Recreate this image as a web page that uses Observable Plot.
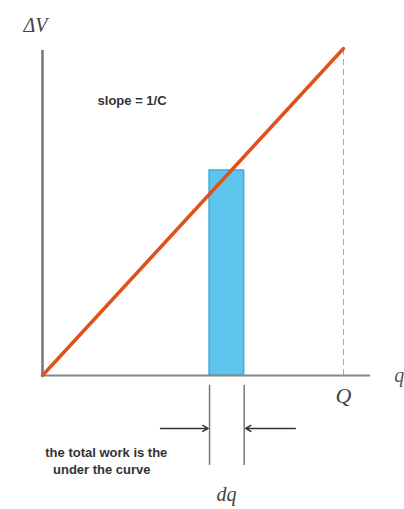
<!DOCTYPE html>
<html><head><meta charset="utf-8">
<script src="https://cdn.jsdelivr.net/npm/d3@7"></script>
<script src="https://cdn.jsdelivr.net/npm/@observablehq/plot@0.6"></script>
<style>body{margin:0;background:#fff;}svg{display:block;}</style>
</head><body><div id="chart"></div>
<script>
// Charge q (Q = 100) and voltage ΔV (ΔV at Q = 100)
const lineQ = [0, 100];
const lineV = [0, 100];
const Q = 100;
const barQ = [55.5, 67];     // strip width dq
const barV = 62.7;           // height of strip
const xAxisEnd = 109;
const yAxisEnd = 99.4;
const labels = ["ΔV", "slope = 1/C", "q", "Q", "dq"];
const noteLines = ["the total work is the", "under the curve"];

const line = lineQ.map((q, i) => ({q, v: lineV[i]}));

const plot = Plot.plot({
  width: 404, height: 509,
  margin: 0,
  x: {domain: [-42/3.01, 362/3.01], range: [0, 404], axis: null},
  y: {domain: [-134/3.27, 375/3.27], range: [509, 0], axis: null},
  style: {background: "#fff"},
  marks: [
    Plot.rect([{x1: barQ[0], x2: barQ[1], y1: 0, y2: barV}], {x1: "x1", x2: "x2", y1: "y1", y2: "y2", fill: "#5cc6ef", stroke: "#4aa8d8", strokeWidth: 1.5}),
    Plot.ruleX([Q], {y1: 0, y2: 100, stroke: "#aaa", strokeDasharray: "6,4", strokeWidth: 1}),
    Plot.ruleY([0], {x1: 0, x2: xAxisEnd, stroke: "#888", strokeWidth: 2}),
    Plot.ruleX([0], {y1: 0, y2: yAxisEnd, stroke: "#777", strokeWidth: 2.5}),
    Plot.line(line, {x: "q", y: "v", stroke: "#e0521c", strokeWidth: 3.5}),
    Plot.ruleX(barQ, {y1: -3, y2: -27.5, stroke: "#777", strokeWidth: 1.5}),
    Plot.arrow([{x1: 39.2, x2: 55, y: -16.2}, {x1: 84, x2: 67.5, y: -16.2}], {x1: "x1", x2: "x2", y1: "y", y2: "y", stroke: "#333", strokeWidth: 1.5, headLength: 6}),
    Plot.text([{x: -2.3, y: 107, t: labels[0]}], {x: "x", y: "y", text: "t", fontSize: 20, fontStyle: "italic", fontFamily: "Liberation Serif", fill: "#444"}),
    Plot.text([{x: 18.3, y: 84, t: labels[1]}], {x: "x", y: "y", text: "t", fontSize: 13, fontWeight: "bold", fontFamily: "Liberation Sans", textAnchor: "start", fill: "#333"}),
    Plot.text([{x: 118.5, y: 0, t: labels[2]}], {x: "x", y: "y", text: "t", fontSize: 20, fontStyle: "italic", fontFamily: "Liberation Serif", fill: "#555"}),
    Plot.text([{x: 100, y: -6.4, t: labels[3]}], {x: "x", y: "y", text: "t", fontSize: 22, fontStyle: "italic", fontFamily: "Liberation Serif", fill: "#444"}),
    Plot.text([{x: 61.1, y: -36.5, t: labels[4]}], {x: "x", y: "y", text: "t", fontSize: 20, fontStyle: "italic", fontFamily: "Liberation Serif", fill: "#444"}),
    Plot.text(noteLines.map((t, i) => ({t, x: 21.2 - i * 1.5, y: -23.6 - i * 5.2}))
      , {x: "x", y: "y", text: "t", fontSize: 13, fontWeight: "bold", fontFamily: "Liberation Sans", fill: "#333"})
  ]
});
document.getElementById("chart").append(plot);
</script></body></html>
